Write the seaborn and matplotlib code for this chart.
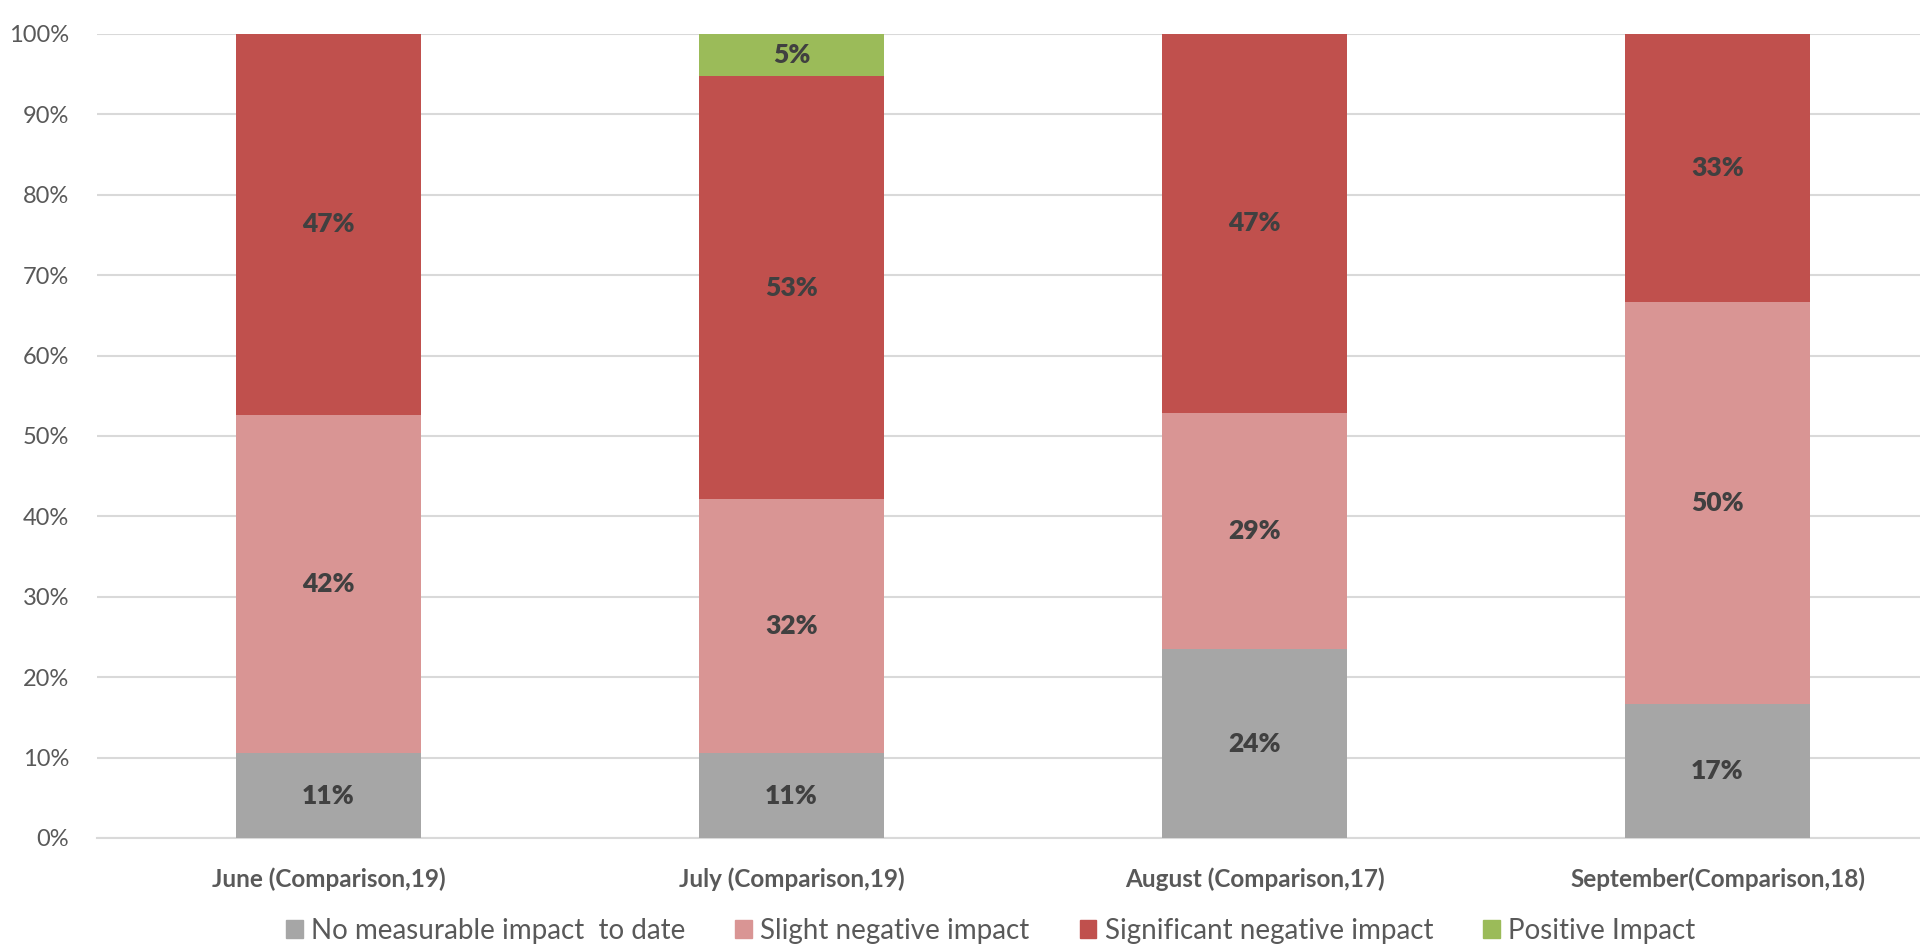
import matplotlib
matplotlib.use("Agg")
import matplotlib.pyplot as plt
import seaborn as sns
import numpy as np
import pandas as pd

# values (percent of respondents)
months = ["June (Comparison,19)", "July (Comparison,19)",
          "August (Comparison,17)", "September(Comparison,18)"]
no_impact = [10.53, 10.53, 23.5, 16.7]
slight_neg = [42.1, 31.6, 29.4, 50.0]
significant_neg = [47.37, 52.6, 47.1, 33.3]
positive = [0.0, 5.27, 0.0, 0.0]

series_names = ["No measurable impact  to date", "Slight negative impact",
                "Significant negative impact", "Positive Impact"]
series_vals = [no_impact, slight_neg, significant_neg, positive]
colors = ["#A6A6A6", "#D99594", "#C0504D", "#9BBB59"]

sns.set_theme(style="white")
plt.rcParams["font.family"] = ["Lato", "DejaVu Sans"]

fig = plt.figure(figsize=(19.2, 9.47), dpi=100)
ax = fig.add_axes([97 / 1920, 1 - 838 / 947, 1852 / 1920, (838 - 34) / 947])

bottom = np.zeros(len(months))
for name, vals, col in zip(series_names, series_vals, colors):
    df = pd.DataFrame({"month": months, "value": vals})
    sns.barplot(data=df, x="month", y="value", color=col, width=0.4,
                bottom=bottom, saturation=1, label=name, ax=ax, zorder=3,
                linewidth=0)
    cont = ax.containers[-1]
    labels = [f"{v:.0f}%" if v > 0 else "" for v in vals]
    ax.bar_label(cont, labels=labels, label_type="center", fontsize=19,
                 fontweight="heavy", color="#404040")
    bottom = bottom + np.array(vals)

ax.set_ylim(0, 100)
ax.set_xlim(-0.5, 3.5)
ax.set_yticks(np.arange(0, 101, 10))
ax.set_yticklabels([f"{t}%" for t in range(0, 101, 10)])
ax.yaxis.grid(True, color="#D9D9D9", linewidth=1.5, zorder=0)
ax.xaxis.grid(False)
for s in ["top", "right", "left"]:
    ax.spines[s].set_visible(False)
ax.spines["bottom"].set_color("#D9D9D9")
ax.spines["bottom"].set_linewidth(1.5)
ax.tick_params(axis="y", labelsize=17, labelcolor="#595959", length=0, pad=20)
ax.tick_params(axis="x", labelsize=17.5, labelcolor="#595959", length=0, pad=21)
for lbl in ax.get_xticklabels():
    lbl.set_fontweight("bold")
ax.set_xlabel("")
ax.set_ylabel("")
if ax.legend_:
    ax.legend_.remove()

handles = [plt.Rectangle((0, 0), 1, 1, color=c) for c in colors]
fig.legend(handles, series_names, loc="center", bbox_to_anchor=(0.516, 1 - 931 / 947),
           ncol=4, frameon=False, fontsize=20, labelcolor="#595959",
           handlelength=0.6, handleheight=0.6, handletextpad=0.3,
           columnspacing=1.8)

fig.savefig("out.png", dpi=100)
